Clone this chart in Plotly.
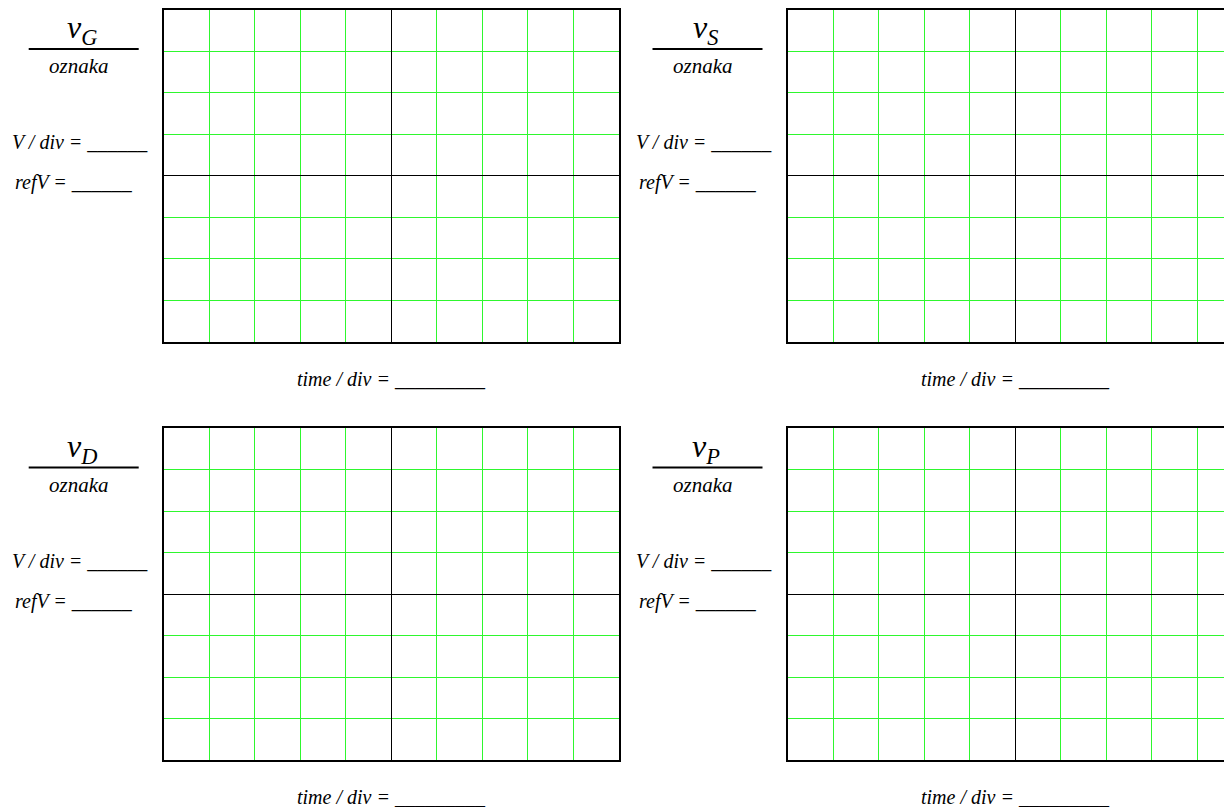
import plotly.graph_objects as go

# Oscilloscope worksheet: four empty screens (10 x 8 divisions)

signals = ["G", "S", "D", "P"]
x_range = [-5, 5]          # 10 horizontal divisions
y_range = [-4, 4]          # 8 vertical divisions
label_text = "oznaka"
volts_text = "V / div = ______"
ref_text = "refV = ______"
time_text = "time / div = _________"

W, H = 1232, 807
PAGE = 8   # default body margin of the html page

# screen placement in page pixels (left, top) and screen size
origins = [(163.7, 9.5), (787.5, 9.5), (163.7, 428), (787.5, 428)]
scr_w, scr_h = 455, 332.2


def fx(px):
    return (px - PAGE) / W


def fy(py):
    return 1 - (py - PAGE) / H


fig = go.Figure()
serif = dict(family="Liberation Serif", color="black", style="italic")
annotations = []
shapes = []

for i, (sig, (L, T)) in enumerate(zip(signals, origins)):
    n = "" if i == 0 else str(i + 1)
    right_cut = min(L + scr_w, W + PAGE)
    div_px = scr_w / (x_range[1] - x_range[0])
    xr = [x_range[0], x_range[0] + (right_cut - L) / div_px]
    clipped = right_cut < L + scr_w

    fig.add_trace(go.Scatter(x=[], y=[], xaxis="x" + n, yaxis="y" + n,
                             showlegend=False, hoverinfo="skip"))
    fig.layout["xaxis" + n] = dict(
        domain=[fx(L), fx(right_cut)], range=xr, anchor="y" + n,
        dtick=1, tick0=0, showgrid=True, gridcolor="#2ef72e", gridwidth=1,
        zeroline=True, zerolinecolor="black", zerolinewidth=1,
        showline=True, linecolor="black", linewidth=2, mirror=True,
        showticklabels=False, ticks="", fixedrange=True)
    fig.layout["yaxis" + n] = dict(
        domain=[fy(T + scr_h), fy(T)], range=y_range, anchor="x" + n,
        dtick=1, tick0=0, showgrid=True, gridcolor="#2ef72e", gridwidth=1,
        zeroline=True, zerolinecolor="black", zerolinewidth=1,
        showline=True, linecolor="black", linewidth=2, mirror=not clipped,
        showticklabels=False, ticks="", fixedrange=True)

    annotations += [
        dict(text="v<sub>" + sig + "</sub>", x=fx(L - 82), y=fy(T + 20),
             xanchor="center", font=dict(serif, size=32)),
        dict(text=label_text, x=fx(L - 85), y=fy(T + 57),
             xanchor="center", font=dict(serif, size=21)),
        dict(text=volts_text, x=fx(L - 154), y=fy(T + 133), xanchor="left",
             font=dict(serif, size=20)),
        dict(text=ref_text, x=fx(L - 151), y=fy(T + 173), xanchor="left",
             font=dict(serif, size=20)),
        dict(text=time_text, x=fx(L + scr_w / 2), y=fy(T + 369),
             xanchor="center", font=dict(serif, size=20)),
    ]
    shapes.append(dict(type="line", xref="paper", yref="paper",
                       x0=fx(L - 135), x1=fx(L - 25), y0=fy(T + 39.5), y1=fy(T + 39.5),
                       line=dict(color="black", width=2)))

for a in annotations:
    a.update(xref="paper", yref="paper", showarrow=False, yanchor="middle")

fig.update_layout(width=W, height=H, margin=dict(l=0, r=0, t=0, b=0),
                  paper_bgcolor="white", plot_bgcolor="white",
                  annotations=annotations, shapes=shapes, showlegend=False)

fig.write_html("out.html")
